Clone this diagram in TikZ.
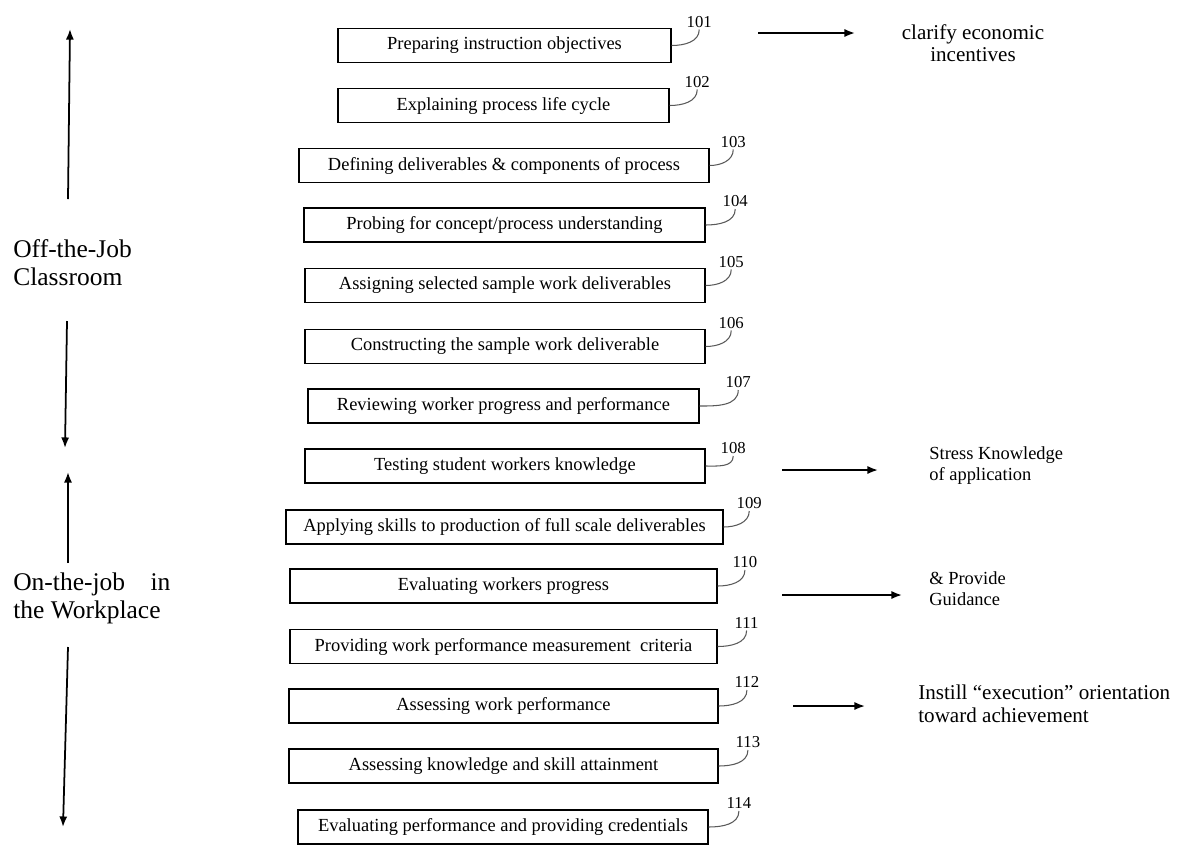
\documentclass[tikz,border=0pt]{standalone}
\usepackage{fontspec}
\setmainfont{Liberation Serif}
\usetikzlibrary{positioning,arrows.meta}

\tikzset{
	stepbox/.style={draw, line width=0.7pt, minimum height=0.68cm, inner sep=0pt, font=\fontsize{10.5}{12}\selectfont},
	num/.style={inner sep=1pt, font=\fontsize{9.5}{11}\selectfont},
	leader/.style={black!65, line width=0.6pt},
	arr/.style={line width=1pt, -{Latex[length=6pt,width=4.6pt]}},
	note/.style={inner sep=0pt, font=\fontsize{12}{12.8}\selectfont},
	smallnote/.style={inner sep=0pt, anchor=west, align=left, font=\fontsize{10.5}{12}\selectfont},
	phase/.style={inner sep=0pt, anchor=west, align=left, font=\fontsize{14.5}{16}\selectfont}
}

\begin{document}
\begin{tikzpicture}
	\useasboundingbox (0,0) rectangle (23.76,-16.88);
	% process steps
	\node[stepbox, minimum width=6.66cm] (b101) at (10.09,-0.91) {Preparing instruction objectives};
	\node[stepbox, minimum width=6.62cm] (b102) at (10.07,-2.11) {Explaining process life cycle};
	\node[stepbox, minimum width=8.20cm] (b103) at (10.08,-3.31) {Defining deliverables \& components of process};
	\node[stepbox, minimum width=8.02cm] (b104) at (10.09,-4.50) {Probing for concept/process understanding};
	\node[stepbox, minimum width=8.00cm] (b105) at (10.10,-5.71) {Assigning selected sample work deliverables};
	\node[stepbox, minimum width=8.00cm] (b106) at (10.10,-6.93) {Constructing the sample work deliverable};
	\node[stepbox, minimum width=7.82cm] (b107) at (10.07,-8.12) {Reviewing worker progress and performance};
	\node[stepbox, minimum width=8.00cm] (b108) at (10.10,-9.32) {Testing student workers knowledge};
	\node[stepbox, minimum width=8.74cm] (b109) at (10.09,-10.54) {Applying skills to production of full scale deliverables};
	\node[stepbox, minimum width=8.54cm] (b110) at (10.07,-11.72) {Evaluating workers progress};
	\node[stepbox, minimum width=8.54cm] (b111) at (10.07,-12.93) {Providing work performance measurement\ \ criteria};
	\node[stepbox, minimum width=8.58cm] (b112) at (10.07,-14.12) {Assessing work performance};
	\node[stepbox, minimum width=8.58cm] (b113) at (10.07,-15.32) {Assessing knowledge and skill attainment};
	\node[stepbox, minimum width=8.20cm] (b114) at (10.06,-16.54) {Evaluating performance and providing credentials};

	% reference numbers
	\node[num, above right=0.32cm and 0.26cm of b101.east] (n101) {101};
	\node[num, above right=0.32cm and 0.26cm of b102.east] (n102) {102};
	\node[num, above right=0.32cm and 0.18cm of b103.east] (n103) {103};
	\node[num, above right=0.32cm and 0.30cm of b104.east] (n104) {104};
	\node[num, above right=0.32cm and 0.22cm of b105.east] (n105) {105};
	\node[num, above right=0.32cm and 0.22cm of b106.east] (n106) {106};
	\node[num, above right=0.32cm and 0.48cm of b107.east] (n107) {107};
	\node[num, above right=0.20cm and 0.26cm of b108.east] (n108) {108};
	\node[num, above right=0.32cm and 0.22cm of b109.east] (n109) {109};
	\node[num, above right=0.32cm and 0.26cm of b110.east] (n110) {110};
	\node[num, above right=0.32cm and 0.30cm of b111.east] (n111) {111};
	\node[num, above right=0.32cm and 0.28cm of b112.east] (n112) {112};
	\node[num, above right=0.32cm and 0.30cm of b113.east] (n113) {113};
	\node[num, above right=0.32cm and 0.32cm of b114.east] (n114) {114};
	\draw[leader] (b101.east) to[out=0,in=-90] (n101.south);
	\draw[leader] (b102.east) to[out=0,in=-90] (n102.south);
	\draw[leader] (b103.east) to[out=0,in=-90] (n103.south);
	\draw[leader] (b104.east) to[out=0,in=-90] (n104.south);
	\draw[leader] (b105.east) to[out=0,in=-90] (n105.south);
	\draw[leader] (b106.east) to[out=0,in=-90] (n106.south);
	\draw[leader] (b107.east) to[out=0,in=-90] (n107.south);
	\draw[leader] (b108.east) to[out=0,in=-90] (n108.south);
	\draw[leader] (b109.east) to[out=0,in=-90] (n109.south);
	\draw[leader] (b110.east) to[out=0,in=-90] (n110.south);
	\draw[leader] (b111.east) to[out=0,in=-90] (n111.south);
	\draw[leader] (b112.east) to[out=0,in=-90] (n112.south);
	\draw[leader] (b113.east) to[out=0,in=-90] (n113.south);
	\draw[leader] (b114.east) to[out=0,in=-90] (n114.south);

	% remarks on the right
	\coordinate (r1s) at (15.16,-0.66);
	\coordinate (r1e) at (17.10,-0.66);
	\node[note, align=center] (t1) at (19.46,-0.86) {clarify economic\\incentives};
	\draw[arr] (r1s) -- (r1e);
	\coordinate (r2s) at (15.64,-9.40);
	\coordinate (r2e) at (17.56,-9.40);
	\node[smallnote] (t2) at (18.58,-9.31) {Stress Knowledge\\of application};
	\draw[arr] (r2s) -- (r2e);
	\coordinate (r3s) at (15.64,-11.90);
	\coordinate (r3e) at (18.04,-11.90);
	\node[smallnote] (t3) at (18.58,-11.77) {\& Provide\\Guidance};
	\draw[arr] (r3s) -- (r3e);
	\coordinate (r4s) at (15.86,-14.12);
	\coordinate (r4e) at (17.30,-14.12);
	\node[note, anchor=west, align=left] (t4) at (18.36,-14.08) {Instill “execution” orientation\\toward achievement};
	\draw[arr] (r4s) -- (r4e);

	% phases on the left
	\node[phase] (off) at (0.26,-5.26) {Off-the-Job\\Classroom};
	\node[phase] (on) at (0.26,-11.96) {On-the-job~~~~in\\the Workplace};
	\coordinate (p1s) at (1.36,-3.98);
	\coordinate (p1e) at (1.40,-0.58);
	\coordinate (p2s) at (1.34,-6.42);
	\coordinate (p2e) at (1.30,-8.96);
	\coordinate (p3s) at (1.36,-11.26);
	\coordinate (p3e) at (1.36,-9.44);
	\coordinate (p4s) at (1.36,-12.94);
	\coordinate (p4e) at (1.26,-16.54);
	\draw[arr] (p1s) -- (p1e);
	\draw[arr] (p2s) -- (p2e);
	\draw[arr] (p3s) -- (p3e);
	\draw[arr] (p4s) -- (p4e);
\end{tikzpicture}
\end{document}
